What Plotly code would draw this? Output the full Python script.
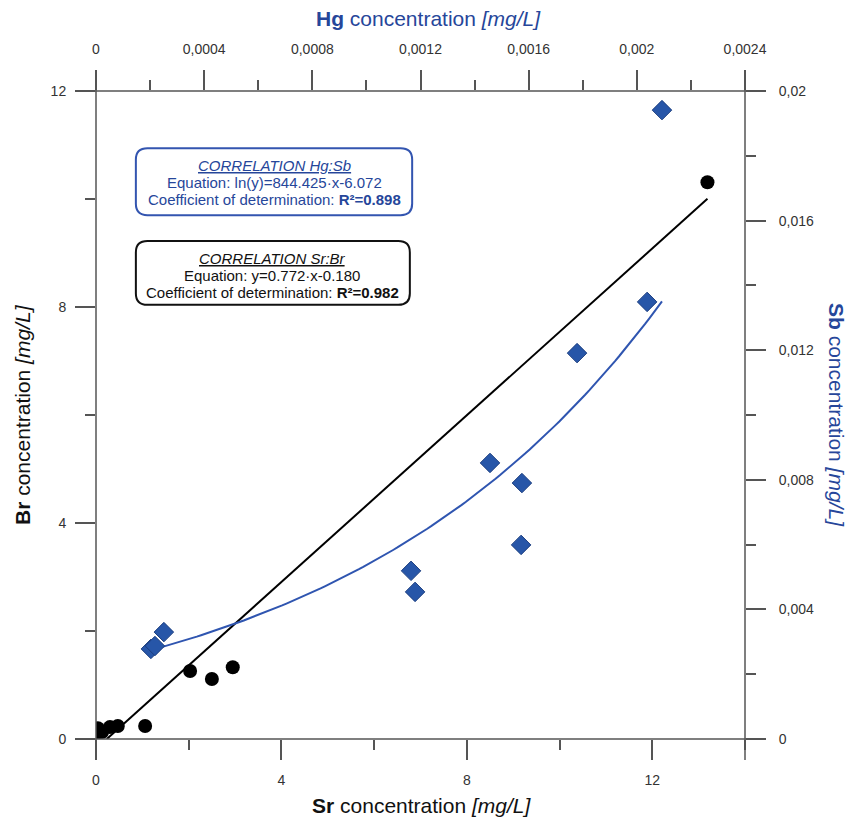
import plotly.graph_objects as go
import numpy as np

# Sr vs Br (black circles)
sr = [0.02, 0.04, 0.13, 0.30, 0.47, 1.06, 2.03, 2.50, 2.95, 13.19]
br = [0.11, 0.20, 0.13, 0.22, 0.24, 0.24, 1.26, 1.11, 1.33, 10.31]

# Hg vs Sb (blue diamonds)
hg = [0.000203, 0.000218, 0.000251, 0.001165, 0.00118, 0.001457, 0.001575,
      0.001572, 0.001779, 0.002038, 0.002093]
sb = [0.00278, 0.00287, 0.00330, 0.00519, 0.00454, 0.00852, 0.00790,
      0.00599, 0.01191, 0.01349, 0.01941]

# regression coefficients shown in the chart
lin_a, lin_b = 0.772, -0.180
lin_x = [0.233, 13.19]
exp_a, exp_b = 844.425, -6.072
exp_x_range = [0.000215, 0.002093]

box1_lines = ["<u><i>CORRELATION Hg:Sb</i></u>",
              "Equation: ln(y)=844.425·x-6.072",
              "Coefficient of determination: <b>R²=0.898</b>"]
box2_lines = ["<u><i>CORRELATION Sr:Br</i></u>",
              "Equation: y=0.772·x-0.180",
              "Coefficient of determination: <b>R²=0.982</b>"]

BLUE = "#26469a"
MBLUE = "#2756a8"
AXC = "#555555"
TXT = "#333333"
FONT = "Liberation Sans, Arial, sans-serif"

fig = go.Figure()

lx = np.array(lin_x)
fig.add_trace(go.Scatter(x=lx, y=lin_a * lx + lin_b, mode="lines",
                         line=dict(color="black", width=2), xaxis="x", yaxis="y",
                         showlegend=False, hoverinfo="skip"))
fig.add_trace(go.Scatter(x=sr, y=br, mode="markers",
                         marker=dict(symbol="circle", size=14, color="black"),
                         xaxis="x", yaxis="y", showlegend=False))

ex = np.linspace(exp_x_range[0], exp_x_range[1], 120)
fig.add_trace(go.Scatter(x=ex, y=np.exp(exp_a * ex + exp_b), mode="lines",
                         line=dict(color="#2f55b0", width=2), xaxis="x2", yaxis="y2",
                         showlegend=False, hoverinfo="skip"))
fig.add_trace(go.Scatter(x=hg, y=sb, mode="markers",
                         marker=dict(symbol="diamond", size=15, color=MBLUE,
                                     line=dict(color="#1d3f80", width=1)),
                         xaxis="x2", yaxis="y2", showlegend=False))

tickfont = dict(family=FONT, size=14, color=TXT)
common = dict(showline=False, zeroline=False, showgrid=False, ticks="outside",
              ticklen=20, tickwidth=1.5, tickcolor=AXC, tickfont=tickfont)
minor_common = dict(ticklen=10, ticks="outside", tickcolor=AXC, tickwidth=1.5)

fig.update_layout(
    width=854, height=827,
    margin=dict(l=96, r=109, t=91, b=88),
    paper_bgcolor="white", plot_bgcolor="white",
    separators=",.",
    xaxis=dict(range=[0, 14], dtick=4, tick0=0, ticklabelstandoff=8,
               minor=dict(dtick=2, **minor_common), **common),
    yaxis=dict(range=[0, 12], dtick=4, tick0=0, ticklabelstandoff=6,
               minor=dict(dtick=2, **minor_common), **common),
    xaxis2=dict(range=[0, 0.0024], dtick=0.0004, tick0=0, overlaying="x", side="top",
                tickformat=".4~f", ticklabelstandoff=10,
                minor=dict(dtick=0.0002, **minor_common), **common),
    yaxis2=dict(range=[0, 0.02], dtick=0.004, tick0=0, overlaying="y", side="right",
                tickformat=".3~f", ticklabelstandoff=10,
                minor=dict(dtick=0.002, **minor_common), **common),
)

# extended frame lines (as in the original, they run past the corners)
ext_x = 21 / 649
ext_y = 21 / 648
line = dict(color=AXC, width=1.5)
shapes = [
    dict(type="line", xref="paper", yref="paper", x0=-ext_x, x1=1 + ext_x, y0=0, y1=0, line=line),
    dict(type="line", xref="paper", yref="paper", x0=-ext_x, x1=1 + ext_x, y0=1, y1=1, line=line),
    dict(type="line", xref="paper", yref="paper", x0=0, x1=0, y0=-ext_y, y1=1 + ext_y, line=line),
    dict(type="line", xref="paper", yref="paper", x0=1, x1=1, y0=-ext_y, y1=1 + ext_y, line=line),
]


def rrect(x0, x1, y0, y1, rx, ry):
    return (f"M {x0+rx},{y1} L {x1-rx},{y1} Q {x1},{y1} {x1},{y1-ry} "
            f"L {x1},{y0+ry} Q {x1},{y0} {x1-rx},{y0} L {x0+rx},{y0} "
            f"Q {x0},{y0} {x0},{y0+ry} L {x0},{y1-ry} Q {x0},{y1} {x0+rx},{y1} Z")


shapes.append(dict(type="path", xref="x", yref="y",
                   path=rrect(0.86, 6.82, 9.70, 10.94, 0.25, 0.21),
                   line=dict(color="#3355b0", width=2), fillcolor="white", layer="above"))
shapes.append(dict(type="path", xref="x", yref="y",
                   path=rrect(0.86, 6.77, 8.04, 9.22, 0.25, 0.21),
                   line=dict(color="#111111", width=2), fillcolor="white", layer="above"))
fig.update_layout(shapes=shapes)

boxfont = 15
annotations = []
# line centres in pixels -> data y
for txt, py in zip(box1_lines, [165, 182, 199]):
    annotations.append(dict(x=3.84, y=(739 - py) / 54, xref="x", yref="y", showarrow=False,
                            text=txt, font=dict(family=FONT, size=boxfont, color=BLUE),
                            yanchor="middle"))
for txt, py in zip(box2_lines, [258, 275, 292]):
    annotations.append(dict(x=3.80, y=(739 - py) / 54, xref="x", yref="y", showarrow=False,
                            text=txt, font=dict(family=FONT, size=boxfont, color="#111111"),
                            yanchor="middle"))

annotations += [
    dict(x=(421 - 96) / 649, y=(739 - 805) / 648, xref="paper", yref="paper", showarrow=False,
         text="<b>Sr</b> concentration <i>[mg/L]</i>",
         font=dict(family=FONT, size=21, color="#111111"), yanchor="middle"),
    dict(x=(428 - 96) / 649, y=(739 - 18) / 648, xref="paper", yref="paper", showarrow=False,
         text="<b>Hg</b> concentration <i>[mg/L]</i>",
         font=dict(family=FONT, size=21, color=BLUE), yanchor="middle"),
    dict(x=(22 - 96) / 649, y=(739 - 415) / 648, xref="paper", yref="paper", showarrow=False,
         text="<b>Br</b> concentration <i>[mg/L]</i>", textangle=-90,
         font=dict(family=FONT, size=21, color="#111111"), xanchor="center"),
    dict(x=(837 - 96) / 649, y=(739 - 415) / 648, xref="paper", yref="paper", showarrow=False,
         text="<b>Sb</b> concentration <i>[mg/L]</i>", textangle=90,
         font=dict(family=FONT, size=21, color=BLUE), xanchor="center"),
]
fig.update_layout(annotations=annotations)

fig.write_html("out.html")
